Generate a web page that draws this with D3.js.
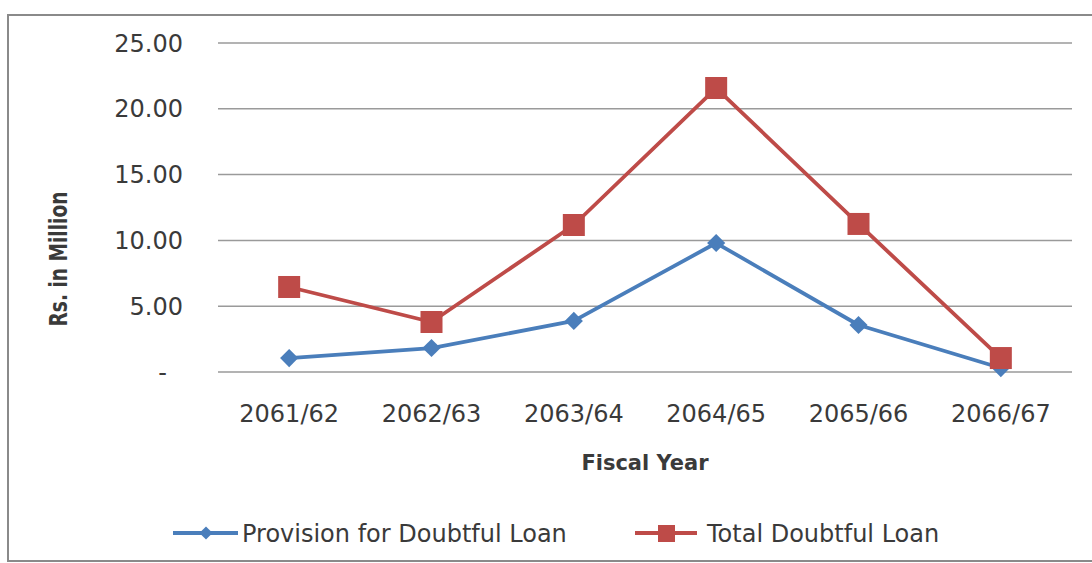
<!DOCTYPE html>
<html>
<head>
<meta charset="utf-8">
<script src="https://d3js.org/d3.v7.min.js"></script>
<style>
  body { margin:0; background:#fff; }
  svg text { fill:#3a3a3a; }
</style>
</head>
<body>
<div id="chart"></div>
<script>
// fiscal years and the two series (Rs. in Million)
var years = ["2061/62", "2062/63", "2063/64", "2064/65", "2065/66", "2066/67"];
var provision = [1.06, 1.82, 3.88, 9.80, 3.57, 0.30];
var totalDoubtful = [6.46, 3.80, 11.17, 21.58, 11.25, 1.06];
var yTicks = [0, 5, 10, 15, 20, 25];
var seriesNames = ["Provision for Doubtful Loan", "Total Doubtful Loan"];

var width = 1092, height = 563;
var svg = d3.select("#chart").append("svg")
    .attr("width", width)
    .attr("height", height);

// chart frame
svg.append("rect")
    .attr("x", 8).attr("y", 15)
    .attr("width", 1100).attr("height", 546)
    .attr("fill", "#fff")
    .attr("stroke", "#8a8a8a")
    .attr("stroke-width", 2);

var xScale = d3.scaleBand().domain(years).range([218, 1072]);
var yScale = d3.scaleLinear().domain([0, 25]).range([372, 43]);
var cx = function(d) { return xScale(d) + xScale.bandwidth() / 2; };

// gridlines
svg.append("g").selectAll("line")
    .data(yTicks)
    .enter()
    .append("line")
    .attr("x1", 218).attr("x2", 1072)
    .attr("y1", function(d) { return yScale(d); })
    .attr("y2", function(d) { return yScale(d); })
    .attr("stroke", "#9a9a9a")
    .attr("stroke-width", 1.5);

// y tick labels (zero shown as a dash, accounting style)
svg.append("g").selectAll("text")
    .data(yTicks)
    .enter()
    .append("text")
    .attr("x", function(d) { return d === 0 ? 167 : 183; })
    .attr("y", function(d) { return yScale(d); })
    .attr("dy", "0.36em")
    .attr("text-anchor", "end")
    .style("font", "24px 'DejaVu Sans', sans-serif")
    .text(function(d) { return d === 0 ? "-" : d3.format(".2f")(d); });

// x tick labels
svg.append("g").selectAll("text")
    .data(years)
    .enter()
    .append("text")
    .attr("x", cx)
    .attr("y", 422)
    .attr("text-anchor", "middle")
    .style("font", "24px 'DejaVu Sans', sans-serif")
    .text(function(d) { return d; });

// axis titles
svg.append("text")
    .attr("x", 645).attr("y", 470)
    .attr("text-anchor", "middle")
    .style("font", "bold 21px 'DejaVu Sans', sans-serif")
    .text("Fiscal Year");

svg.append("text")
    .attr("transform", "translate(67,259) rotate(-90)")
    .attr("text-anchor", "middle")
    .attr("textLength", 135)
    .attr("lengthAdjust", "spacingAndGlyphs")
    .style("font", "bold 25px 'DejaVu Sans', sans-serif")
    .text("Rs. in Million");

var line = d3.line()
    .x(function(d, i) { return cx(years[i]); })
    .y(function(d) { return yScale(d); });

var blue = "#4a7ebb", red = "#be4b48";

// provision series (diamonds)
svg.append("path")
    .datum(provision)
    .attr("d", line)
    .attr("fill", "none")
    .attr("stroke", blue)
    .attr("stroke-width", 3.8)
    .attr("stroke-linejoin", "round");

var diamond = d3.symbol().type(d3.symbolDiamond2).size(210);
svg.append("g").selectAll("path")
    .data(provision)
    .enter()
    .append("path")
    .attr("d", diamond)
    .attr("transform", function(d, i) { return "translate(" + cx(years[i]) + "," + yScale(d) + ")"; })
    .attr("fill", blue);

// total doubtful series (squares)
svg.append("path")
    .datum(totalDoubtful)
    .attr("d", line)
    .attr("fill", "none")
    .attr("stroke", red)
    .attr("stroke-width", 3.8)
    .attr("stroke-linejoin", "round");

svg.append("g").selectAll("rect")
    .data(totalDoubtful)
    .enter()
    .append("rect")
    .attr("x", function(d, i) { return cx(years[i]) - 11; })
    .attr("y", function(d) { return yScale(d) - 11; })
    .attr("width", 22).attr("height", 22)
    .attr("fill", red);

// legend
var legend = svg.append("g");
var lg1 = legend.append("g").attr("transform", "translate(173,533)");
lg1.append("line").attr("x1", 0).attr("x2", 65).attr("stroke", blue).attr("stroke-width", 3.8);
lg1.append("path").attr("d", d3.symbol().type(d3.symbolDiamond2).size(110)).attr("transform", "translate(33,0)").attr("fill", blue);
lg1.append("text").attr("x", 69).attr("dy", "0.36em")
    .style("font", "24px 'DejaVu Sans', sans-serif").text(seriesNames[0]);

var lg2 = legend.append("g").attr("transform", "translate(635,533)");
lg2.append("line").attr("x1", 0).attr("x2", 62).attr("stroke", red).attr("stroke-width", 3.8);
lg2.append("rect").attr("x", 23).attr("y", -8).attr("width", 17).attr("height", 17).attr("fill", red);
lg2.append("text").attr("x", 72).attr("dy", "0.36em")
    .style("font", "24px 'DejaVu Sans', sans-serif").text(seriesNames[1]);
</script>
</body>
</html>
